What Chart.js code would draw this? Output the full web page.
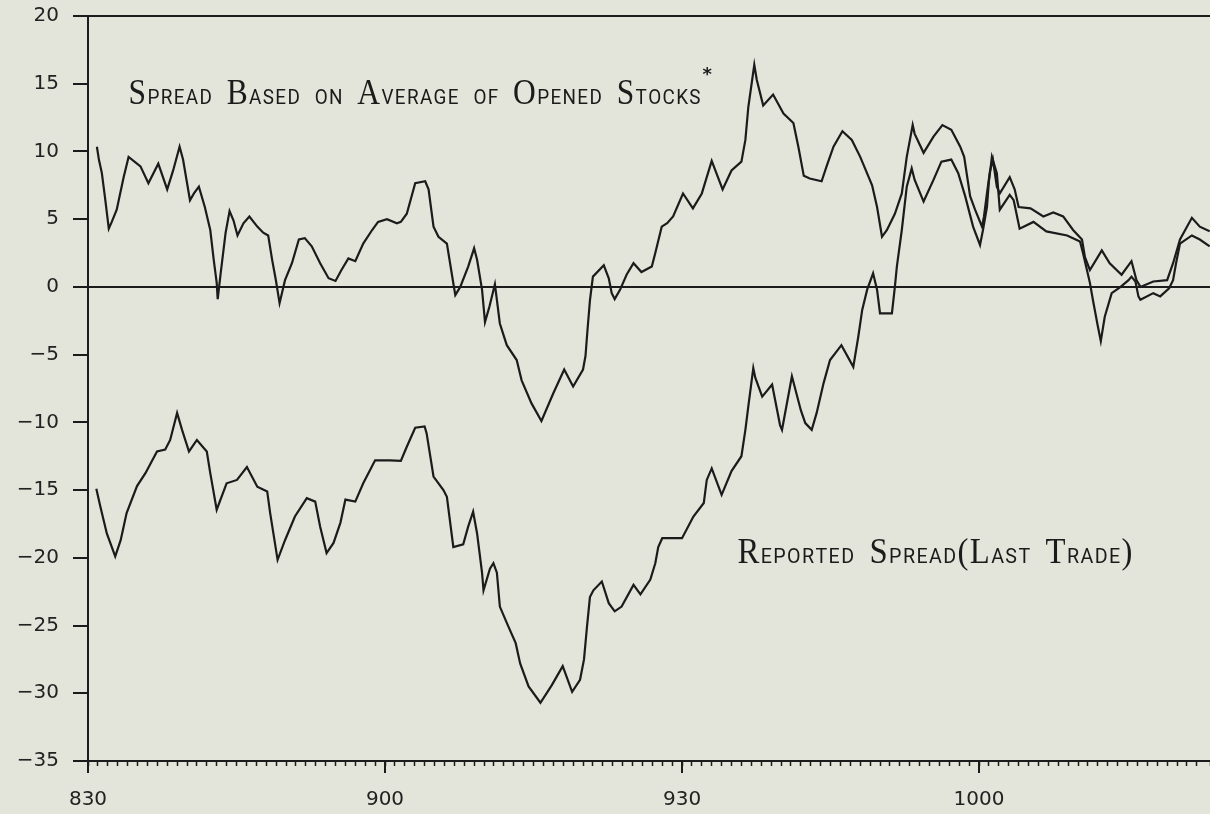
<!DOCTYPE html>
<html>
<head>
<meta charset="utf-8">
<script src="https://cdn.jsdelivr.net/npm/chart.js@4/dist/chart.umd.min.js"></script>
<style>
  html, body { margin: 0; padding: 0; background: #e3e5da; }
  #wrap { width: 1210px; height: 814px; }
</style>
</head>
<body>
<div id="wrap"><canvas id="spreadChart" width="1210" height="814"></canvas></div>
<script>
// minutes after 8:30
const avgTimes = [0.9, 1.1, 1.4, 1.75, 2.1, 2.4, 2.9, 3.6, 4.1, 5.3, 6.1, 7.1, 8.0, 8.6, 9.25, 9.6, 10.3, 10.7, 11.2, 11.8,
  12.35, 12.7, 13.0, 13.1, 13.4, 13.9, 14.3, 14.7, 15.1, 15.7, 16.3, 17.1, 17.7, 18.2, 18.6, 19.0, 19.35, 19.9, 20.6, 21.3,
  21.9, 22.6, 23.45, 24.3, 25.0, 25.6, 26.3, 27.0, 27.8, 28.7, 29.3, 30.2, 31.2, 31.6, 32.2, 33.05, 34.06, 34.4, 34.9, 35.4,
  36.25, 36.9, 37.1, 37.6, 38.4, 39.0, 39.3, 39.8, 40.1, 40.55, 41.1, 41.6, 42.3, 43.3, 43.8, 44.8, 45.8, 47.0, 48.1, 49.0,
  50.0, 50.25, 50.45, 50.7, 51.0, 52.1, 52.6, 52.9, 53.2, 53.75, 54.4, 55.1, 55.9, 56.95, 57.3, 57.95, 58.5, 59.1, 60.1, 61.1,
  62.0, 62.5, 63.0, 64.1, 65.0, 66.0, 66.4, 66.7, 67.3, 67.55, 68.2, 69.2, 70.25, 71.25, 71.75, 72.3, 72.9, 74.1, 74.6, 75.3,
  76.2, 77.15, 78.0, 79.2, 79.7, 80.2, 80.7, 81.5, 82.2, 82.7, 83.3, 83.5, 84.4, 85.4, 86.3, 87.2, 88.1, 88.5, 89.1, 89.6,
  90.3, 90.5, 90.8, 91.1, 91.4, 91.8, 92.1, 93.1, 93.6, 94.0, 95.2, 96.5, 97.5, 98.5, 99.5, 100.4, 100.7, 101.2, 102.4, 103.2,
  104.4, 105.4, 105.9, 106.3, 107.6, 109.0, 109.6, 110.3, 111.5, 112.3, 113.3];
const avgValues = [10.35, 9.4, 8.4, 6.4, 4.3, 4.8, 5.7, 8.1, 9.6, 8.9, 7.65, 9.1, 7.2, 8.6, 10.35, 9.4, 6.4, 6.9, 7.4, 5.9,
  4.2, 2.0, 0.3, -0.9, 1.0, 4.0, 5.6, 4.9, 3.8, 4.7, 5.2, 4.45, 4.0, 3.8, 2.0, 0.4, -1.2, 0.5, 1.75, 3.5,
  3.6, 3.0, 1.75, 0.64, 0.44, 1.25, 2.1, 1.9, 3.2, 4.2, 4.8, 5.0, 4.7, 4.8, 5.4, 7.65, 7.8, 7.2, 4.45, 3.7,
  3.2, 0.27, -0.6, 0.0, 1.5, 2.85, 2.0, -0.2, -2.6, -1.45, 0.2, -2.7, -4.3, -5.4, -6.9, -8.6, -9.9, -7.85, -6.1, -7.35,
  -6.1, -5.1, -3.2, -1.0, 0.76, 1.6, 0.64, -0.46, -0.9, -0.2, 0.9, 1.75, 1.1, 1.5, 2.5, 4.45, 4.7, 5.2, 6.9, 5.8,
  6.9, 8.1, 9.3, 7.2, 8.6, 9.25, 10.85, 13.3, 16.4, 15.3, 13.4, 14.2, 12.8, 12.1, 10.35, 8.2, 8.0, 7.8, 8.9, 10.35,
  11.5, 10.85, 9.6, 7.5, 5.9, 3.7, 4.2, 5.4, 6.9, 9.6, 11.95, 11.3, 9.9, 11.1, 11.95, 11.6, 10.35, 9.6, 6.7, 5.7,
  4.45, 5.2, 6.9, 8.5, 9.4, 7.4, 6.9, 8.1, 7.2, 5.9, 5.8, 5.2, 5.5, 5.2, 4.2, 3.5, 2.2, 1.25, 2.7, 1.75,
  0.9, 1.9, 0.5, 0.0, 0.4, 0.5, 1.75, 3.5, 5.1, 4.45, 4.1];

const lastTimes = [0.84, 1.24, 1.9, 2.75, 3.3, 3.9, 4.95, 5.8, 6.97, 7.8, 8.3, 9.0, 9.5, 10.2, 11.0, 12.0, 12.35, 13.0, 14.0, 15.05,
  16.05, 17.1, 18.1, 18.4, 19.15, 19.9, 20.9, 22.1, 22.95, 23.45, 24.1, 24.8, 25.5, 26.0, 27.0, 27.8, 29.0, 30.5, 31.6, 32.2,
  33.05, 34.0, 34.2, 34.9, 35.9, 36.25, 36.9, 37.9, 38.4, 38.9, 39.3, 39.8, 39.95, 40.6, 40.95, 41.3, 41.6, 42.3, 43.2, 43.65,
  44.5, 45.7, 46.85, 47.95, 48.9, 49.7, 50.1, 50.4, 50.7, 51.05, 51.9, 52.6, 53.2, 53.9, 55.1, 55.8, 56.8, 57.3, 57.6, 58.0,
  60.0, 61.15, 62.2, 62.5, 63.0, 64.0, 65.0, 66.0, 66.4, 66.7, 67.2, 67.4, 68.1, 69.1, 69.9, 70.1, 71.1, 72.0, 72.45, 73.1,
  73.6, 74.3, 74.95, 76.1, 77.3, 77.8, 78.2, 78.7, 79.3, 79.7, 80.0, 81.2, 81.5, 81.7, 82.2, 82.7, 83.2, 83.5, 84.4, 85.4,
  86.2, 87.2, 87.9, 88.6, 89.4, 90.1, 90.4, 90.8, 91.0, 91.3, 91.8, 92.1, 93.1, 93.5, 94.1, 95.5, 96.8, 98.9, 100.2, 100.5,
  101.2, 101.5, 102.0, 102.3, 102.7, 103.4, 104.3, 105.1, 105.4, 105.8, 106.1, 106.3, 107.6, 108.3, 109.2, 109.6, 109.9, 110.3, 111.5, 112.3,
  113.3];
const lastValues = [-14.9, -16.2, -18.2, -19.9, -18.7, -16.7, -14.7, -13.75, -12.15, -12.0, -11.3, -9.3, -10.55, -12.15, -11.3, -12.15, -13.75, -16.45, -14.5, -14.25,
  -13.3, -14.75, -15.1, -16.7, -20.15, -18.7, -16.95, -15.6, -15.85, -17.7, -19.65, -18.9, -17.4, -15.7, -15.85, -14.5, -12.8, -12.8, -12.85, -11.8,
  -10.4, -10.3, -10.8, -14.0, -15.0, -15.5, -19.2, -19.0, -17.7, -16.6, -18.2, -21.1, -22.4, -20.8, -20.4, -21.1, -23.6, -24.8, -26.3, -27.8,
  -29.5, -30.7, -29.4, -28.0, -29.9, -29.0, -27.5, -25.1, -22.9, -22.4, -21.75, -23.35, -23.95, -23.6, -22.0, -22.7, -21.6, -20.4, -19.2, -18.55,
  -18.55, -16.95, -15.95, -14.25, -13.4, -15.35, -13.6, -12.5, -10.55, -8.8, -6.0, -6.7, -8.1, -7.2, -10.2, -10.55, -6.6, -9.1, -10.05, -10.55,
  -9.3, -7.1, -5.4, -4.3, -5.9, -3.7, -1.7, -0.2, 1.0, -0.2, -1.95, -1.95, 0.0, 1.5, 4.2, 7.4, 8.75, 7.9, 6.3, 7.9,
  9.25, 9.4, 8.4, 6.7, 4.45, 3.1, 4.2, 5.9, 7.8, 9.6, 8.4, 5.7, 6.8, 6.4, 4.3, 4.8, 4.1, 3.8, 3.35, 2.5,
  0.3, -0.95, -2.9, -4.0, -2.2, -0.46, 0.0, 0.5, 0.76, 0.4, -0.7, -0.95, -0.46, -0.7, -0.1, 0.5, 1.75, 3.2, 3.8, 3.5,
  3.0];

const xTickMinutes = [0, 30, 60, 90];
const xTickLabels = ['830', '900', '930', '1000'];
const yTicks = [20, 15, 10, 5, 0, -5, -10, -15, -20, -25, -30, -35];

const ink = '#1b1b1b';

const notes = [
  { text: 'Spread Based on Average of Opened Stocks', x: 4.1, y: 13.5, width: 572, star: true },
  { text: 'Reported Spread(Last Trade)', x: 65.6, y: -20.4, width: 395 }
];

function capsRuns(ctx, text, draw, x0, y0) {
  let x = x0;
  for (const ch of text) {
    if (ch === ' ') { x += 15; continue; }
    const big = ch !== ch.toLowerCase() || ch === '(' || ch === ')';
    ctx.font = big ? '35px "Liberation Serif"' : '21px Roboto';
    const c = ch.toUpperCase();
    if (draw) ctx.fillText(c, x, y0);
    x += ctx.measureText(c).width + 1.5;
  }
  return x - x0 - 1.5;
}

const notesPlugin = {
  id: 'notes',
  afterDatasetsDraw(chart) {
    const { ctx, scales } = chart;
    ctx.save();
    ctx.fillStyle = ink;
    ctx.textBaseline = 'alphabetic';
    notes.forEach(n => {
      const px = scales.x.getPixelForValue(n.x);
      const py = scales.y.getPixelForValue(n.y);
      const natural = capsRuns(ctx, n.text, false, 0, 0);
      const k = n.width / natural;
      ctx.save();
      ctx.translate(px, py);
      ctx.scale(k, 1);
      capsRuns(ctx, n.text, true, 0, 0);
      ctx.restore();
      if (n.star) {
        ctx.font = 'bold 18px "DejaVu Sans"';
        ctx.fillText('*', px + n.width + 2, py - 24);
      }
    });
    ctx.restore();
  }
};

// long ticks at the labelled times
const majorTicks = {
  id: 'majorTicks',
  afterDraw(chart) {
    const { ctx, scales, chartArea } = chart;
    ctx.save();
    ctx.strokeStyle = ink;
    ctx.lineWidth = 2;
    xTickMinutes.forEach(m => {
      const px = Math.round(scales.x.getPixelForValue(m));
      ctx.beginPath();
      ctx.moveTo(px, chartArea.bottom);
      ctx.lineTo(px, chartArea.bottom + 12);
      ctx.stroke();
    });
    ctx.restore();
  }
};

new Chart(document.getElementById('spreadChart'), {
  type: 'line',
  data: {
    datasets: [
      {
        label: 'Spread Based on Average of Opened Stocks',
        data: avgTimes.map((t, i) => ({ x: t, y: avgValues[i] })),
        borderColor: ink, borderWidth: 2.2, pointRadius: 0, tension: 0, fill: false
      },
      {
        label: 'Reported Spread(Last Trade)',
        data: lastTimes.map((t, i) => ({ x: t, y: lastValues[i] })),
        borderColor: ink, borderWidth: 2.2, pointRadius: 0, tension: 0, fill: false
      }
    ]
  },
  options: {
    responsive: false,
    animation: false,
    layout: { padding: { top: 16, right: 0, bottom: 0, left: 0 } },
    plugins: { legend: { display: false }, tooltip: { enabled: false } },
    scales: {
      x: {
        type: 'linear',
        min: 0,
        max: 113.33,
        afterFit: s => { s.height = 53; s.paddingLeft = 0; s.paddingRight = 0; },
        border: { display: true, color: ink, width: 2 },
        grid: { drawOnChartArea: false, drawTicks: true, tickLength: 5, tickColor: ink, tickWidth: 1.5 },
        ticks: {
          stepSize: 1,
          autoSkip: false,
          maxRotation: 0,
          padding: 22,
          color: '#222',
          font: { family: '"DejaVu Sans"', size: 20 },
          callback: v => {
            const i = xTickMinutes.indexOf(v);
            return i >= 0 ? xTickLabels[i] : '';
          }
        }
      },
      y: {
        min: -35,
        max: 20,
        afterFit: s => { s.width = 88; s.paddingTop = 0; s.paddingBottom = 0; },
        afterBuildTicks: s => { s.ticks = yTicks.map(v => ({ value: v })); },
        border: { display: true, color: ink, width: 2 },
        grid: {
          drawOnChartArea: true,
          color: c => (c.tick && (c.tick.value === 0 || c.tick.value === 20)) ? ink : 'rgba(0,0,0,0)',
          lineWidth: 2,
          tickLength: 15,
          tickColor: ink,
          tickWidth: 2
        },
        ticks: {
          padding: 14,
          color: '#222',
          font: { family: '"DejaVu Sans"', size: 20 },
          callback: v => v < 0 ? '\u2212' + (-v) : String(v)
        }
      }
    }
  },
  plugins: [notesPlugin, majorTicks]
});
</script>
</body>
</html>
